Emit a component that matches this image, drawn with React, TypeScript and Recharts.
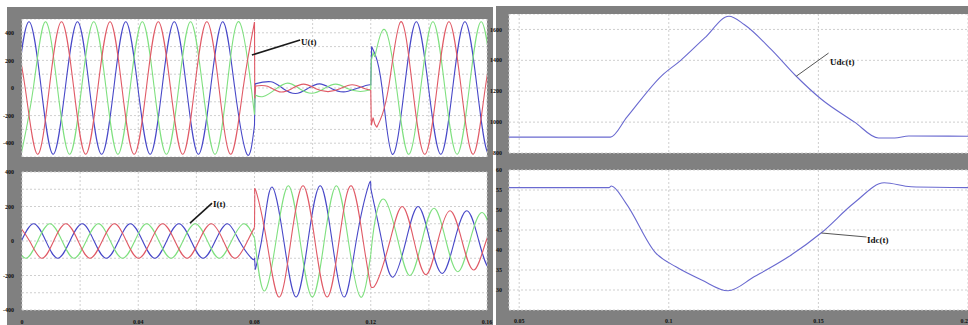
import React from 'react';
import { LineChart, Line, XAxis, YAxis, CartesianGrid, ReferenceLine } from 'recharts';

type P = [number, number];

// ---------- Left panel, top: U(t) three-phase voltage ----------
const uBluePre: P[] = [[-0.0018,0],[0.0024,480],[0.0066,0],[0.0107,-480],[0.0149,0],[0.0191,480],[0.0232,0],[0.0274,-480],[0.0316,0],[0.0357,480],[0.0399,0],[0.0441,-480],[0.0482,0],[0.0524,480],[0.0566,0],[0.0607,-480],[0.0649,0],[0.0691,480],[0.0732,0],[0.0774,-480],[0.0800,-268]];
const uGreenPre: P[] = [[-0.0003,-480],[0.0039,0],[0.0080,480],[0.0122,0],[0.0164,-480],[0.0205,0],[0.0247,480],[0.0289,0],[0.0330,-480],[0.0372,0],[0.0414,480],[0.0455,0],[0.0497,-480],[0.0539,0],[0.0580,480],[0.0622,0],[0.0664,-480],[0.0705,0],[0.0747,480],[0.0789,0],[0.0800,-194]];
const uRedPre: P[] = [[-0.0031,480],[0.0011,0],[0.0053,-480],[0.0094,0],[0.0136,480],[0.0178,0],[0.0219,-480],[0.0261,0],[0.0303,480],[0.0344,0],[0.0386,-480],[0.0428,0],[0.0469,480],[0.0511,0],[0.0553,-480],[0.0594,0],[0.0636,480],[0.0678,0],[0.0719,-480],[0.0761,0],[0.0800,478]];
const uBlueJumpA: P[] = [[0.0800,-268],[0.0802,30]];
const uGreenJumpA: P[] = [[0.0800,-194],[0.0802,-50]];
const uRedJumpA: P[] = [[0.0800,478],[0.0801,-75],[0.0804,15]];
const uBlueMid: P[] = [[0.0802,30],[0.0857,45],[0.0899,-5],[0.0941,-40],[0.0982,-5],[0.1024,30],[0.1066,-5],[0.1107,-28],[0.1149,-5],[0.1191,22],[0.1200,20]];
const uGreenMid: P[] = [[0.0802,-50],[0.0830,-62],[0.0872,-10],[0.0914,35],[0.0955,-5],[0.0997,-38],[0.1039,-5],[0.1080,28],[0.1122,-5],[0.1164,-25],[0.1200,-12]];
const uRedMid: P[] = [[0.0804,15],[0.0845,12],[0.0886,-28],[0.0928,-5],[0.0969,28],[0.1011,-5],[0.1053,-26],[0.1094,-5],[0.1136,24],[0.1178,-3],[0.1200,-15]];
const uBlueJumpB: P[] = [[0.1200,20],[0.1203,300],[0.1215,245]];
const uGreenJumpB: P[] = [[0.1200,-12],[0.1202,200],[0.1208,255],[0.1214,225]];
const uRedJumpB: P[] = [[0.1200,-15],[0.1202,-270],[0.1208,-215],[0.1214,-262],[0.1221,-285]];
const uBluePost: P[] = [[0.1215,245],[0.1239,0],[0.1274,-480],[0.1316,0],[0.1357,480],[0.1399,0],[0.1441,-480],[0.1482,0],[0.1524,480],[0.1566,0],[0.1607,-480],[0.1649,0]];
const uGreenPost: P[] = [[0.1214,225],[0.1250,420],[0.1289,0],[0.1330,-480],[0.1372,0],[0.1414,480],[0.1455,0],[0.1497,-480],[0.1539,0],[0.1580,480],[0.1622,0]];
const uRedPost: P[] = [[0.1221,-285],[0.1261,0],[0.1303,480],[0.1344,0],[0.1386,-480],[0.1428,0],[0.1469,480],[0.1511,0],[0.1553,-480],[0.1594,0],[0.1636,480]];

// ---------- Left panel, bottom: I(t) three-phase current ----------
const iBluePre: P[] = [[-0.0002,0],[0.0040,100],[0.0082,0],[0.0123,-100],[0.0165,0],[0.0207,100],[0.0248,0],[0.0290,-100],[0.0332,0],[0.0373,100],[0.0415,0],[0.0457,-100],[0.0498,0],[0.0540,100],[0.0582,0],[0.0623,-100],[0.0665,0],[0.0707,100],[0.0748,0],[0.0790,-100],[0.0800,-98]];
const iGreenPre: P[] = [[-0.0029,0],[0.0013,-100],[0.0054,0],[0.0096,100],[0.0138,0],[0.0179,-100],[0.0221,0],[0.0263,100],[0.0304,0],[0.0346,-100],[0.0388,0],[0.0429,100],[0.0471,0],[0.0513,-100],[0.0554,0],[0.0596,100],[0.0638,0],[0.0679,-100],[0.0721,0],[0.0763,100],[0.0800,17]];
const iRedPre: P[] = [[-0.0016,100],[0.0026,0],[0.0068,-100],[0.0109,0],[0.0151,100],[0.0193,0],[0.0234,-100],[0.0276,0],[0.0318,100],[0.0359,0],[0.0401,-100],[0.0443,0],[0.0484,100],[0.0526,0],[0.0568,-100],[0.0609,0],[0.0651,100],[0.0693,0],[0.0734,-100],[0.0776,0],[0.0800,79]];
const iBlueJumpA: P[] = [[0.0800,-98],[0.0803,-165]];
const iRedJumpA: P[] = [[0.0800,79],[0.0801,270]];
const iBlueMid: P[] = [[0.0803,-165],[0.0830,60],[0.0860,313],[0.0901,0],[0.0943,-325],[0.0984,0],[0.1026,320],[0.1067,0],[0.1109,-325],[0.1150,0],[0.1192,320],[0.1200,305]];
const iGreenMid: P[] = [[0.0800,17],[0.0833,-290],[0.0874,0],[0.0916,320],[0.0957,0],[0.0999,-325],[0.1040,0],[0.1082,320],[0.1123,0],[0.1165,-325],[0.1200,-80]];
const iRedMid: P[] = [[0.0801,270],[0.0806,285],[0.0842,0],[0.0884,-325],[0.0925,0],[0.0967,320],[0.1008,0],[0.1050,-325],[0.1091,0],[0.1133,320],[0.1174,0],[0.1200,-265]];
const iBluePost: P[] = [[0.1200,305],[0.1238,0],[0.1275,-210],[0.1321,0],[0.1363,200],[0.1404,0],[0.1446,-188],[0.1488,0],[0.1531,175],[0.1572,0],[0.1613,-165],[0.1655,0]];
const iGreenPost: P[] = [[0.1200,-80],[0.1215,120],[0.1248,240],[0.1294,0],[0.1335,-200],[0.1376,0],[0.1418,190],[0.1459,0],[0.1500,-178],[0.1541,0],[0.1583,165],[0.1624,0]];
const iRedPost: P[] = [[0.1200,-265],[0.1222,-235],[0.1266,0],[0.1308,200],[0.1349,0],[0.1390,-195],[0.1431,0],[0.1473,175],[0.1514,0],[0.1555,-168],[0.1597,0],[0.1638,160]];

// ---------- Right panel: Udc(t), Idc(t) ----------
const udc: P[] = [[0.0466,903],[0.0805,903],[0.0860,1032],[0.0976,1300],[0.1040,1400],[0.1120,1545],[0.1201,1685],[0.1252,1632],[0.1342,1471],[0.1426,1297],[0.1510,1148],[0.1621,1000],[0.1701,897],[0.1755,897],[0.1802,910],[0.2000,908]];
const idc: P[] = [[0.0466,55.6],[0.0800,55.6],[0.0808,56.0],[0.0856,51.8],[0.0956,39.3],[0.1024,35.8],[0.1110,32.5],[0.1198,29.8],[0.1285,33.3],[0.1400,38.3],[0.1510,44.3],[0.1620,51.8],[0.1720,56.8],[0.1810,55.8],[0.2000,55.6]];

// ---------- Axes ----------
const tLeftTicks = [0, 0.02, 0.04, 0.06, 0.08, 0.1, 0.12, 0.14, 0.16];
const tLeftLabels = ['0', '', '0.04', '', '0.08', '', '0.12', '', '0.16'];
const uTicks = [-500, -400, -300, -200, -100, 0, 100, 200, 300, 400, 500];
const uLabels = ['', '-400', '', '-200', '', '0', '', '200', '', '400', ''];
const iTicks = [-400, -300, -200, -100, 0, 100, 200, 300, 400];
const iLabels = ['-400', '', '-200', '', '0', '', '200', '', '400'];
const tRightTicks = [0.05, 0.1, 0.15, 0.2];
const tRightLabels = ['0.05', '0.1', '0.15', '0.2'];
const udcTicks = [800, 1000, 1200, 1400, 1600];
const idcTicks = [30, 35, 40, 45, 50, 55, 60];

const BLUE = '#4848c8';
const GREEN = '#7fe07f';
const RED = '#e05a66';

const pts = (a: P[]) => a.map(([t, v]) => ({ t, v }));

const tickStyle = { fontSize: 6, fill: '#111', fontFamily: 'Liberation Serif', fontWeight: 700 };

function seg(key: string, data: P[], color: string, type: any = 'natural') {
  return (
    <Line key={key} data={pts(data)} dataKey="v" type={type} stroke={color} strokeWidth={1.1}
      dot={false} activeDot={false} isAnimationActive={false} />
  );
}

const labelFrom = (ticks: number[], labels: string[]) => (v: number) => {
  const i = ticks.findIndex((x) => Math.abs(x - v) < 1e-9);
  return i >= 0 ? labels[i] : '';
};

// X tick for the right panel: the last label is anchored at its end so it stays inside the picture
function RightXTick(props: any) {
  const { x, y, payload, index } = props;
  const last = index === tRightTicks.length - 1;
  return (
    <text x={x} y={y} dy={5} textAnchor={last ? 'end' : 'middle'} {...tickStyle}>
      {labelFrom(tRightTicks, tRightLabels)(payload.value)}
    </text>
  );
}

const annot: React.CSSProperties = {
  position: 'absolute', fontFamily: 'Liberation Serif', fontWeight: 700, fontSize: 9, color: '#111', lineHeight: '9px', whiteSpace: 'nowrap',
};

export default function App() {
  return (
    <div style={{ position: 'absolute', left: 0, top: 0, width: 968, height: 325, background: '#fff', overflow: 'hidden' }}>
      <div style={{ position: 'absolute', left: 7, top: 7, width: 486, height: 318, background: '#808080' }} />
      <div style={{ position: 'absolute', left: 496, top: 6, width: 472, height: 319, background: '#808080' }} />

      {/* Left top: U(t) */}
      <div style={{ position: 'absolute', left: 0, top: 19 }}>
        <LineChart width={493} height={138} margin={{ top: 0, right: 6, bottom: 0, left: 0 }}>
          <CartesianGrid fill="#fff" stroke="#cfcfcf" strokeDasharray="2 2" />
          <XAxis dataKey="t" type="number" domain={[0, 0.16]} ticks={tLeftTicks} allowDataOverflow hide />
          <YAxis type="number" domain={[-500, 500]} ticks={uTicks} interval={0} width={22} tickLine={false} axisLine={false}
            tickMargin={2} tick={tickStyle} tickFormatter={labelFrom(uTicks, uLabels)} allowDataOverflow />
          {seg('ubp', uBluePre, BLUE)}
          {seg('ugp', uGreenPre, GREEN)}
          {seg('urp', uRedPre, RED)}
          {seg('ubja', uBlueJumpA, BLUE, 'linear')}
          {seg('ugja', uGreenJumpA, GREEN, 'linear')}
          {seg('urja', uRedJumpA, RED, 'linear')}
          {seg('ubm', uBlueMid, BLUE)}
          {seg('ugm', uGreenMid, GREEN)}
          {seg('urm', uRedMid, RED)}
          {seg('ubjb', uBlueJumpB, BLUE, 'linear')}
          {seg('ugjb', uGreenJumpB, GREEN, 'linear')}
          {seg('urjb', uRedJumpB, RED, 'linear')}
          {seg('ubq', uBluePost, BLUE)}
          {seg('ugq', uGreenPost, GREEN)}
          {seg('urq', uRedPost, RED)}
          <ReferenceLine segment={[{ x: 0.0791, y: 239 }, { x: 0.0957, y: 348 }]} stroke="#1a1a1a" strokeWidth={1.6} ifOverflow="visible" />
        </LineChart>
      </div>
      <div style={{ ...annot, left: 301, top: 38 }}>U(t)</div>

      {/* Left bottom: I(t) */}
      <div style={{ position: 'absolute', left: 0, top: 166 }}>
        <LineChart width={493} height={159} margin={{ top: 6, right: 6, bottom: 0, left: 0 }}>
          <CartesianGrid fill="#fff" stroke="#cfcfcf" strokeDasharray="2 2" />
          <XAxis dataKey="t" type="number" domain={[0, 0.16]} ticks={tLeftTicks} interval={0} allowDataOverflow height={15}
            tickLine={false} axisLine={false} tickMargin={4} tick={tickStyle} tickFormatter={labelFrom(tLeftTicks, tLeftLabels)} />
          <YAxis type="number" domain={[-400, 400]} ticks={iTicks} interval={0} width={22} tickLine={false} axisLine={false}
            tickMargin={2} tick={tickStyle} tickFormatter={labelFrom(iTicks, iLabels)} allowDataOverflow />
          {seg('ibp', iBluePre, BLUE)}
          {seg('igp', iGreenPre, GREEN)}
          {seg('irp', iRedPre, RED)}
          {seg('ibja', iBlueJumpA, BLUE, 'linear')}
          {seg('irja', iRedJumpA, RED, 'linear')}
          {seg('ibm', iBlueMid, BLUE)}
          {seg('igm', iGreenMid, GREEN)}
          {seg('irm', iRedMid, RED)}
          {seg('ibq', iBluePost, BLUE)}
          {seg('igq', iGreenPost, GREEN)}
          {seg('irq', iRedPost, RED)}
          <ReferenceLine segment={[{ x: 0.0578, y: 104 }, { x: 0.0654, y: 220 }]} stroke="#1a1a1a" strokeWidth={1.6} ifOverflow="visible" />
        </LineChart>
      </div>
      <div style={{ ...annot, left: 213, top: 200 }}>I(t)</div>

      {/* Right top: Udc(t) */}
      <div style={{ position: 'absolute', left: 488, top: 14 }}>
        <LineChart width={480} height={145} margin={{ top: 0, right: 0, bottom: 6, left: 0 }}>
          <CartesianGrid fill="#fff" stroke="#cfcfcf" strokeDasharray="2 2" />
          <XAxis dataKey="t" type="number" domain={[0.0466, 0.2]} ticks={tRightTicks} allowDataOverflow hide />
          <YAxis type="number" domain={[800, 1700]} ticks={udcTicks} interval={0} width={21} tickLine={false} axisLine={false}
            tickMargin={1} tick={tickStyle} allowDataOverflow />
          {seg('udc', udc, '#6a6ad0', 'monotone')}
          <ReferenceLine segment={[{ x: 0.1426, y: 1297 }, { x: 0.1534, y: 1447 }]} stroke="#555" strokeWidth={1} ifOverflow="visible" />
        </LineChart>
      </div>
      <div style={{ ...annot, left: 830, top: 58 }}>Udc(t)</div>

      {/* Right bottom: Idc(t) */}
      <div style={{ position: 'absolute', left: 488, top: 164 }}>
        <LineChart width={480} height={161} margin={{ top: 6, right: 0, bottom: 0, left: 0 }}>
          <CartesianGrid fill="#fff" stroke="#cfcfcf" strokeDasharray="2 2" />
          <XAxis dataKey="t" type="number" domain={[0.0466, 0.2]} ticks={tRightTicks} interval={0} allowDataOverflow height={15}
            tickLine={false} axisLine={false} tickMargin={2} tick={<RightXTick />} />
          <YAxis type="number" domain={[25, 60]} ticks={idcTicks} interval={0} width={21} tickLine={false} axisLine={false}
            tickMargin={1} tick={tickStyle} allowDataOverflow />
          {seg('idc', idc, '#6a6ad0', 'monotone')}
          <ReferenceLine segment={[{ x: 0.151, y: 44.25 }, { x: 0.1661, y: 43.25 }]} stroke="#555" strokeWidth={1} ifOverflow="visible" />
        </LineChart>
      </div>
      <div style={{ ...annot, left: 867, top: 236 }}>Idc(t)</div>
    </div>
  );
}
